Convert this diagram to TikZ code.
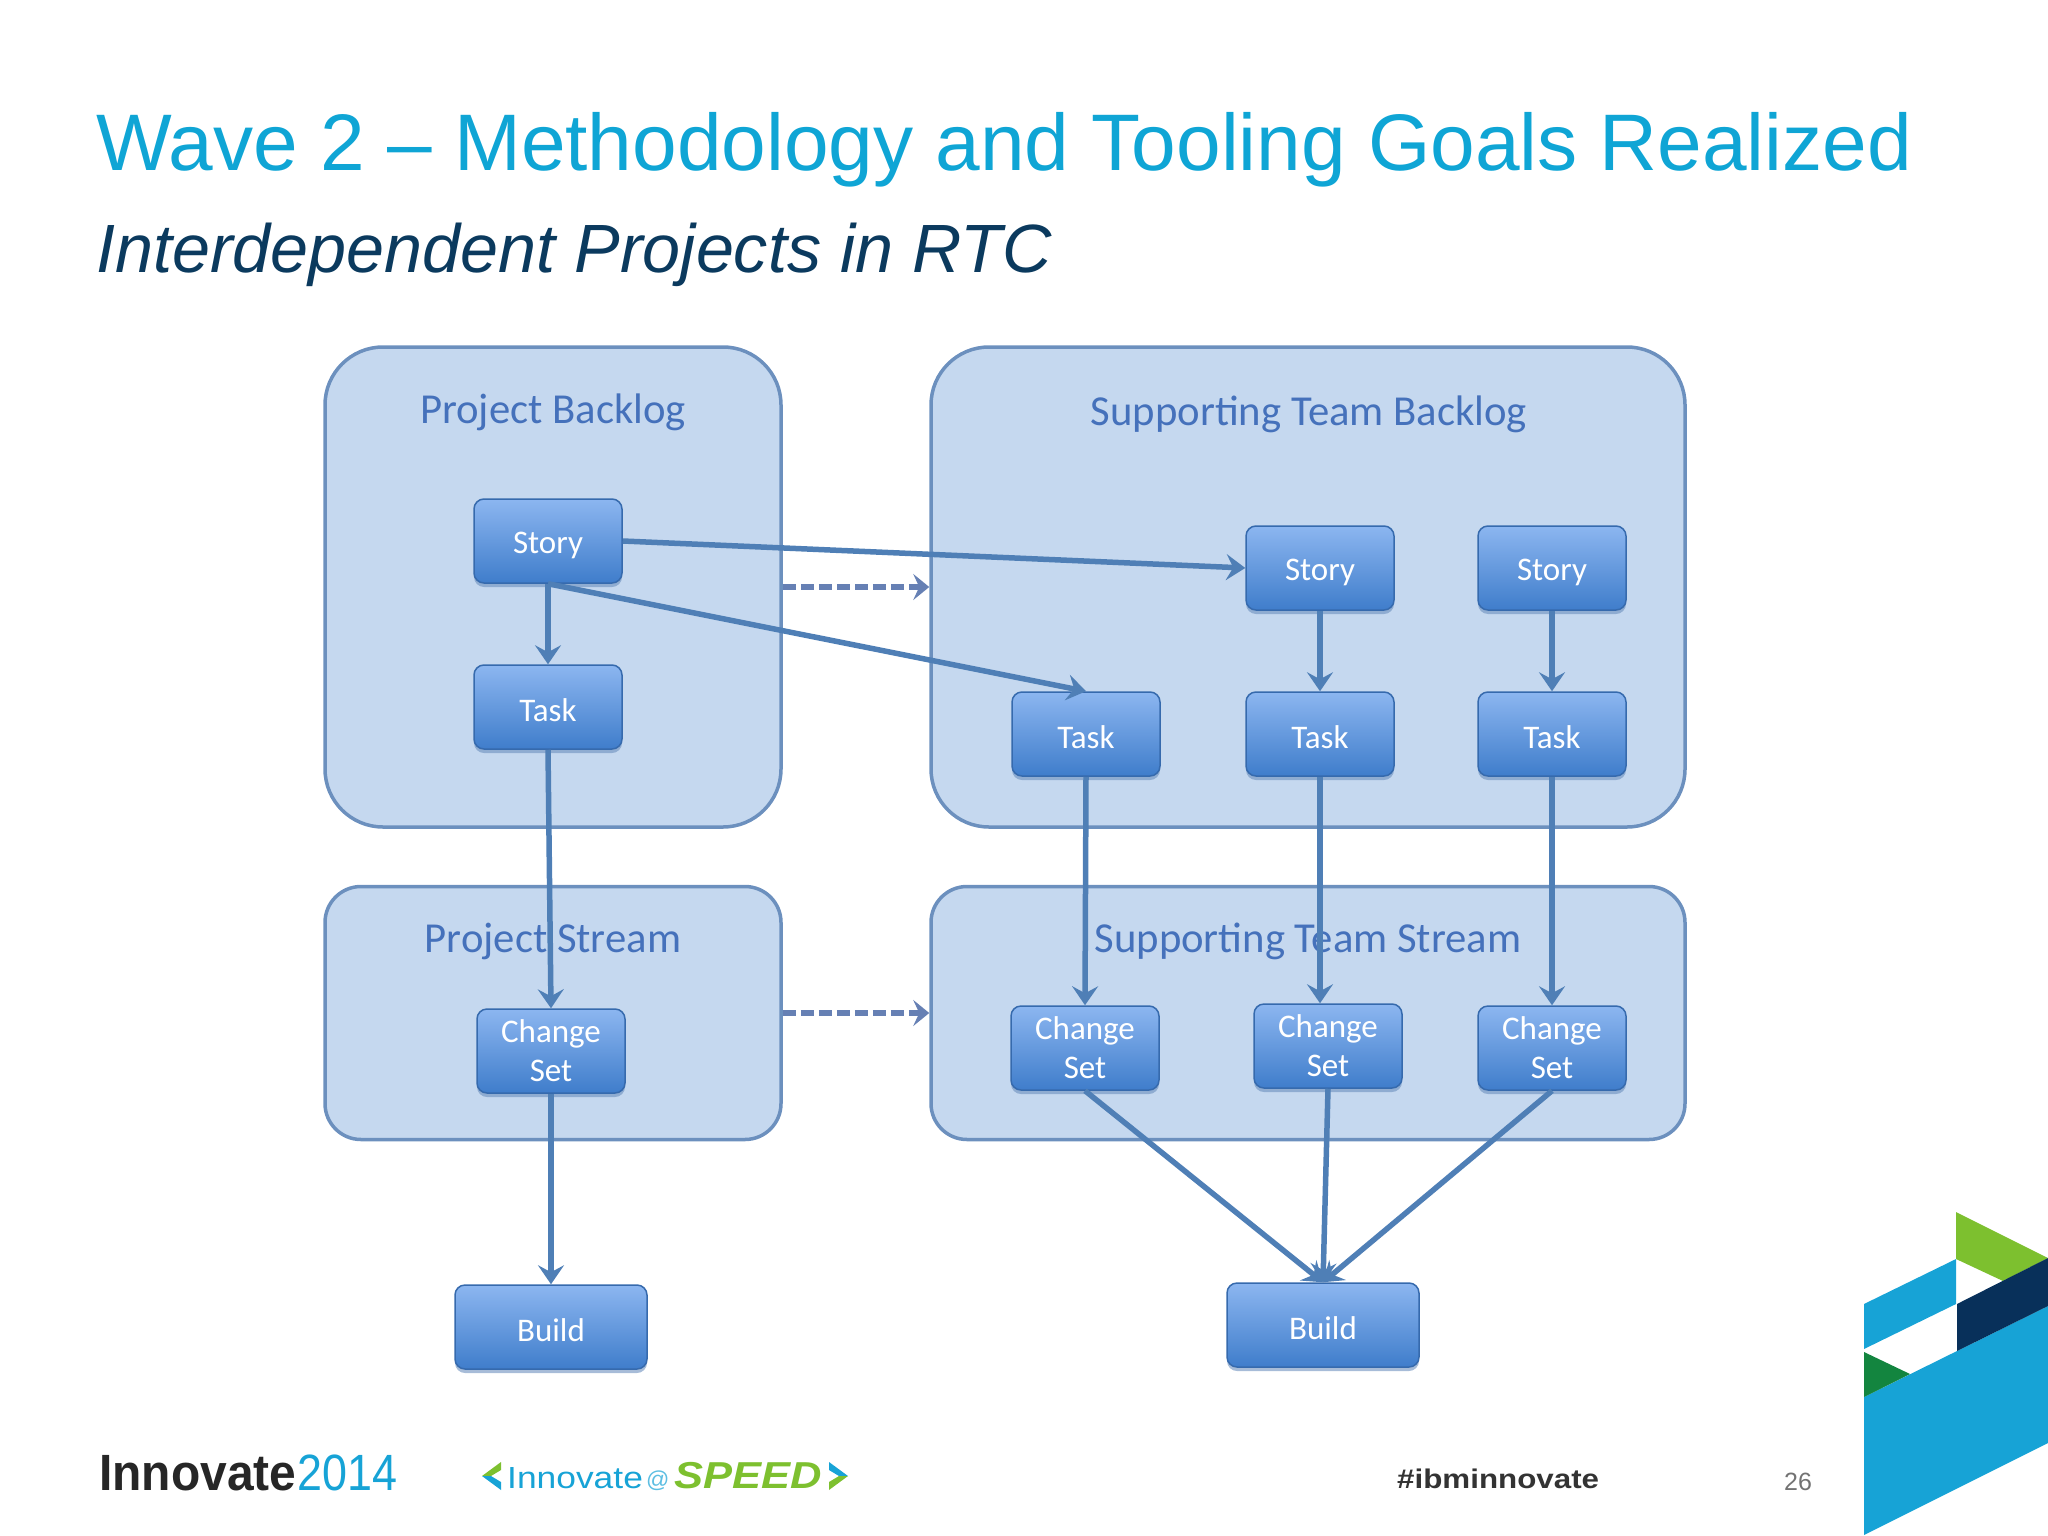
\documentclass[tikz,border=0pt]{standalone}
\usepackage{fontspec}
\usepackage{tikz}
\usetikzlibrary{arrows.meta,shadows}
\setmainfont{Liberation Sans}
\newfontfamily\boxfont{Carlito}
\newfontfamily\widefont[FakeStretch=1.16]{Liberation Sans}
\newfontfamily\narrowfont[FakeStretch=.88]{Liberation Sans}
\newfontfamily\tightfont[FakeStretch=.94]{Liberation Sans}

\definecolor{titleblue}{HTML}{0FA5D5}
\definecolor{subnavy}{HTML}{0B3A5E}
\definecolor{panelfill}{HTML}{C5D8EF}
\definecolor{paneledge}{HTML}{6C90BE}
\definecolor{paneltext}{HTML}{4571BB}
\definecolor{boxtop}{HTML}{8CB6F0}
\definecolor{boxbottom}{HTML}{3F7DCB}
\definecolor{linkblue}{HTML}{4F7FB6}
\definecolor{dashblue}{HTML}{6680B4}
\definecolor{logoblue}{HTML}{17A3D6}
\definecolor{logolime}{HTML}{7DC02F}
\definecolor{logonavy}{HTML}{08305A}
\definecolor{logogreen}{HTML}{13853F}

\tikzset{
  panel/.style={draw=paneledge,line width=3.5pt,fill=panelfill,rounded corners=#1,inner sep=0pt},
  paneltitle/.style={text=paneltext,font=\boxfont\fontsize{42.7}{48}\selectfont,inner sep=0pt},
  boxnode/.style={draw=boxbottom!85!black,line width=1.5pt,rounded corners=10pt,
    top color=boxtop,bottom color=boxbottom,text=white,align=center,inner sep=0pt,
    font=\boxfont\fontsize{33}{39}\selectfont,
    execute at begin node={\rule{0pt}{30pt}},
    drop shadow={shadow xshift=0pt,shadow yshift=-4pt,fill=paneledge,opacity=.6}},
  smallbox/.style={boxnode,minimum width=148pt,minimum height=84pt},
  bigbox/.style={boxnode,minimum width=192pt,minimum height=84pt},
  link/.style={draw=linkblue,line width=5.5pt,-{Stealth[length=19pt,width=26pt,inset=7pt]}},
  duelink/.style={draw=dashblue,line width=6pt,dash pattern=on 13pt off 5pt,-{Stealth[length=16pt,width=26pt,inset=6pt]}},
  plaintext/.style={inner sep=0pt,anchor=base west}
}

\begin{document}
\begin{tikzpicture}[x=1pt,y=-1pt]
  \useasboundingbox (0,0) rectangle (2048,1536);

  \node[plaintext,text=titleblue,font=\fontsize{80.2}{90}\selectfont] (title) at (96,170) {Wave 2 – Methodology and Tooling Goals Realized};
  \node[plaintext,text=subnavy,font=\itshape\fontsize{68.3}{76}\selectfont] (subtitle) at (96,272) {Interdependent Projects in RTC};

  \node[panel=58pt,minimum width=456pt,minimum height=480pt] (pb) at (553,587) {};
  \node[panel=58pt,minimum width=754pt,minimum height=480pt] (tb) at (1308,587) {};
  \node[panel=36pt,minimum width=456pt,minimum height=253pt] (ps) at (553,1013) {};
  \node[panel=36pt,minimum width=754pt,minimum height=253pt] (ts) at (1308,1013) {};

  \node[paneltitle] (pbtitle) at (553,412) {Project Backlog};
  \node[paneltitle] (tbtitle) at (1309,414) {Supporting Team Backlog};
  \node[paneltitle] (pstitle) at (553,941) {Project Stream};
  \node[paneltitle] (tstitle) at (1308,941) {Supporting Team Stream};

  \begin{scope}[every node/.style={smallbox}]
    \node (s0) at (548,541) {Story};
    \node (s1) at (1320,568) {Story};
    \node (s2) at (1552,568) {Story};
    \node (t0) at (548,707) {Task};
    \node (t1) at (1086,734) {Task};
    \node (t2) at (1320,734) {Task};
    \node (t3) at (1552,734) {Task};
    \node (c0) at (551,1051) {Change\\Set};
    \node (c1) at (1085,1048) {Change\\Set};
    \node (c2) at (1328,1046) {Change\\Set};
    \node (c3) at (1552,1048) {Change\\Set};
  \end{scope}

  \begin{scope}[every node/.style={bigbox}]
    \node (b0) at (551,1327) {Build};
    \node (b1) at (1323,1325) {Build};
  \end{scope}

  \path[duelink] (pb.east) -- (tb.west);
  \path[duelink] (ps.east) -- (ts.west);

  \path[link] (s0.south) -- (t0.north);
  \path[link] (s0.east) -- (s1.west);
  \path[link] (s0.south) -- (t1.north);
  \path[link] (s1.south) -- (t2.north);
  \path[link] (s2.south) -- (t3.north);
  \path[link] (t0.south) -- (c0.north);
  \path[link] (t1.south) -- (c1.north);
  \path[link] (t2.south) -- (c2.north -| t2.south);
  \path[link] (t3.south) -- (c3.north);
  \path[link] (c0.south) -- (b0.north);
  \path[link] (c1.south) -- (b1.north);
  \path[link] (c2.south) -- (b1.north);
  \path[link] (c3.south) -- (b1.north);

  \node[plaintext,font=\tightfont\bfseries\fontsize{51}{58}\selectfont,text=black!85] (innovate) at (99,1490) {Innovate};
  \node[plaintext,font=\narrowfont\fontsize{51}{58}\selectfont,text=logoblue] (year) at (297,1490) {2014};

  \fill[logolime] (501,1462) -- (482,1476) -- (491,1476) -- (501,1470) -- cycle;
  \fill[logoblue] (482,1476) -- (501,1490) -- (501,1482) -- (491,1476) -- cycle;
  \node[plaintext,font=\widefont\fontsize{30.5}{36}\selectfont,text=logoblue] (speedleft) at (507,1488) {Innovate};
  \node[plaintext,font=\fontsize{23}{26}\selectfont,text=logoblue!70] (speedat) at (646,1487) {@};
  \node[plaintext,font=\widefont\bfseries\itshape\fontsize{37.5}{42}\selectfont,text=logolime] (speed) at (674,1488) {SPEED};
  \fill[logoblue] (829,1462) -- (848,1476) -- (839,1476) -- (829,1470) -- cycle;
  \fill[logolime] (848,1476) -- (829,1490) -- (829,1482) -- (839,1476) -- cycle;

  \node[plaintext,font=\widefont\bfseries\fontsize{27}{32}\selectfont,text=black!80] (tag) at (1397,1488) {\#ibminnovate};
  \node[plaintext,font=\fontsize{25}{30}\selectfont,text=black!55] (page) at (1784,1490) {26};

  \fill[logoblue] (1864,1397) -- (2048,1306) -- (2048,1443) -- (1864,1535) -- cycle;
  \fill[logoblue] (1864,1304) -- (1956,1259) -- (1956,1304) -- (1864,1349) -- cycle;
  \fill[logolime] (1956,1212) -- (2048,1258) -- (2003,1281) -- (1956,1259) -- cycle;
  \fill[logonavy] (2048,1258) -- (2048,1306) -- (1957,1351) -- (1957,1304) -- cycle;
  \fill[logogreen] (1864,1352) -- (1910,1374) -- (1864,1397) -- cycle;
\end{tikzpicture}
\end{document}
